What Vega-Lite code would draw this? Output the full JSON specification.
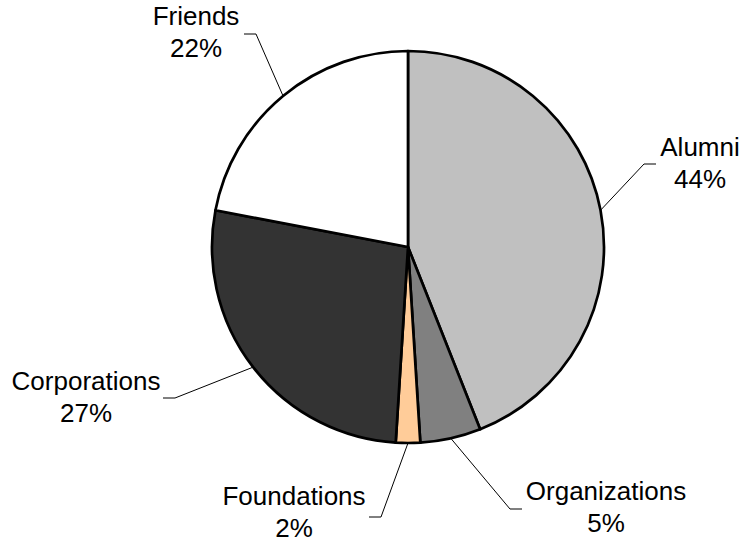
{
  "$schema": "https://vega.github.io/schema/vega-lite/v6.json",
  "width": 392,
  "height": 392,
  "autosize": {"type": "none"},
  "padding": {"left": 212, "top": 51, "right": 141, "bottom": 102},
  "background": "white",
  "config": {"view": {"stroke": null}, "text": {"font": "Liberation Sans"}},
  "data": {
    "values": [
      {"Source": "Alumni", "Percent": 44},
      {"Source": "Organizations", "Percent": 5},
      {"Source": "Foundations", "Percent": 2},
      {"Source": "Corporations", "Percent": 27},
      {"Source": "Friends", "Percent": 22}
    ]
  },
  "transform": [
    {"window": [{"op": "row_number", "as": "idx"}]},
    {"window": [{"op": "sum", "field": "Percent", "as": "cum"}], "sort": [{"field": "idx"}], "frame": [null, 0]},
    {"joinaggregate": [{"op": "sum", "field": "Percent", "as": "total"}]},
    {"calculate": "2*PI*(datum.cum - datum.Percent/2)/datum.total", "as": "a"},
    {"calculate": "196*sin(datum.a)", "as": "sx"},
    {"calculate": "-196*cos(datum.a)", "as": "sy"},
    {"calculate": "{'Alumni':236,'Organizations':102,'Foundations':-27,'Corporations':-233,'Friends':-152}[datum.Source]", "as": "ex"},
    {"calculate": "{'Alumni':-83,'Organizations':262,'Foundations':270,'Corporations':151,'Friends':-213}[datum.Source]", "as": "ey"},
    {"calculate": "datum.ex + (datum.ex > 0 ? 12 : -12)", "as": "tx"},
    {"calculate": "{'Alumni':292,'Organizations':198,'Foundations':-114,'Corporations':-322,'Friends':-212}[datum.Source]", "as": "cx"},
    {"calculate": "{'Alumni':-99,'Organizations':245,'Foundations':250,'Corporations':135,'Friends':-230}[datum.Source]", "as": "cy"},
    {"calculate": "datum.Source + '\\n' + datum.Percent + '%'", "as": "label"}
  ],
  "layer": [
    {
      "mark": {"type": "arc", "outerRadius": 196, "stroke": "black", "strokeWidth": 2.7, "strokeJoin": "round"},
      "encoding": {
        "theta": {"field": "Percent", "type": "quantitative", "stack": true},
        "order": {"field": "idx", "type": "quantitative"},
        "color": {
          "field": "Source",
          "type": "nominal",
          "scale": {
            "domain": ["Alumni", "Organizations", "Foundations", "Corporations", "Friends"],
            "range": ["#C0C0C0", "#808080", "#FFCC99", "#333333", "#FFFFFF"]
          },
          "legend": null
        }
      }
    },
    {
      "mark": {"type": "rule", "color": "black", "strokeWidth": 1},
      "encoding": {
        "x": {"field": "sx", "type": "quantitative", "scale": {"domain": [-196, 196]}, "axis": null},
        "y": {"field": "sy", "type": "quantitative", "scale": {"domain": [-196, 196], "reverse": true}, "axis": null},
        "x2": {"field": "ex"},
        "y2": {"field": "ey"}
      }
    },
    {
      "mark": {"type": "rule", "color": "black", "strokeWidth": 1},
      "encoding": {
        "x": {"field": "ex", "type": "quantitative", "scale": {"domain": [-196, 196]}, "axis": null},
        "y": {"field": "ey", "type": "quantitative", "scale": {"domain": [-196, 196], "reverse": true}, "axis": null},
        "x2": {"field": "tx"},
        "y2": {"field": "ey"}
      }
    },
    {
      "mark": {"type": "text", "fontSize": 26, "lineHeight": 32, "lineBreak": "\n", "align": "center", "baseline": "middle", "color": "black"},
      "encoding": {
        "x": {"field": "cx", "type": "quantitative", "scale": {"domain": [-196, 196]}, "axis": null},
        "y": {"field": "cy", "type": "quantitative", "scale": {"domain": [-196, 196], "reverse": true}, "axis": null},
        "text": {"field": "label", "type": "nominal"}
      }
    }
  ]
}
